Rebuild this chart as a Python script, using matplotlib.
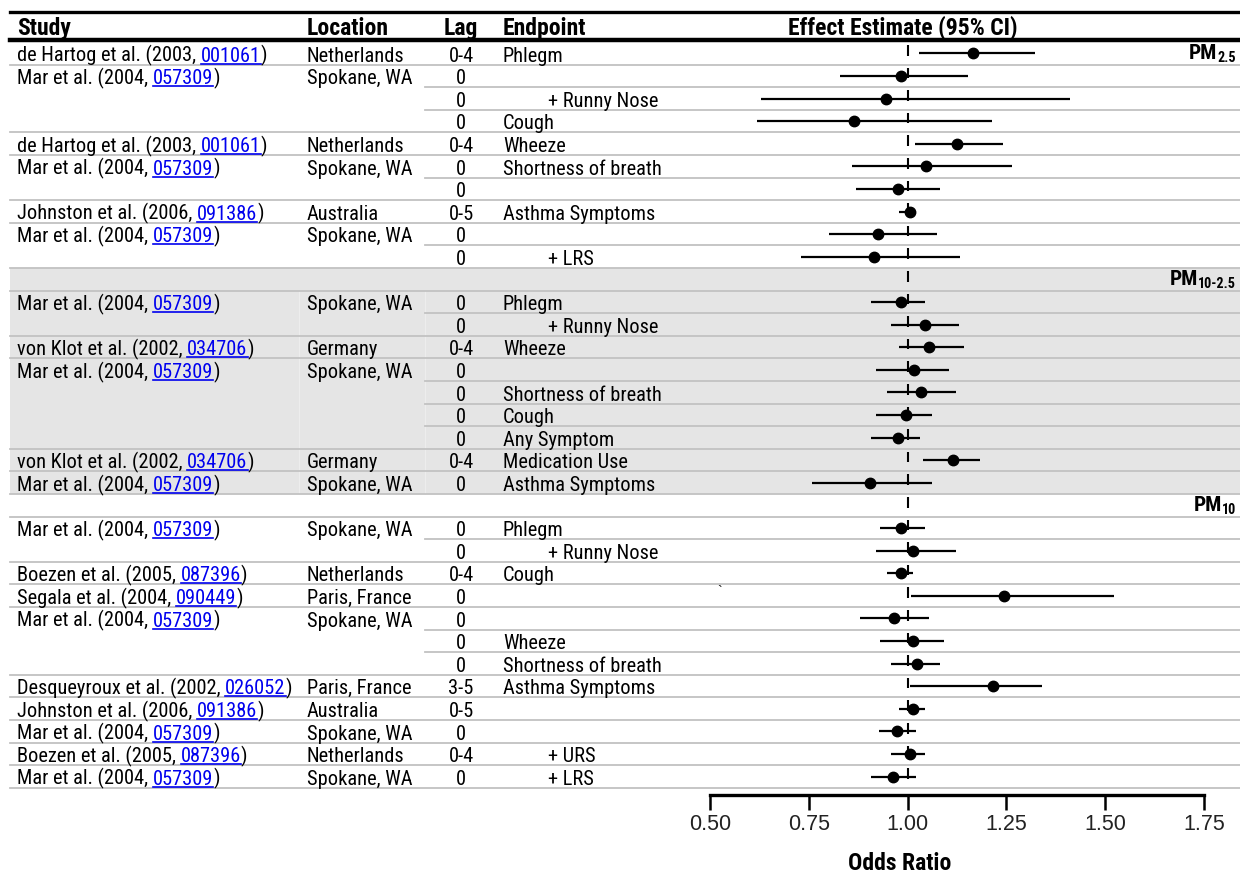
import os
import matplotlib
matplotlib.use("Agg")
import matplotlib.pyplot as plt
from matplotlib.lines import Line2D
from matplotlib.patches import Rectangle
from matplotlib.transforms import blended_transform_factory
from matplotlib.font_manager import FontProperties, fontManager, weight_dict

plt.rcParams["font.family"] = ["Liberation Sans", "DejaVu Sans"]

# ------------------------------------------------------------------ data
pollutant_main = ["PM", "PM", "PM"]
pollutant_sub = ["2.5", "10-2.5", "10"]
section_of_row = [0] * 10 + [1] * 9 + [2] * 12

study_cite = [
    "de Hartog et al. (2003", "Mar et al. (2004", "", "",
    "de Hartog et al. (2003", "Mar et al. (2004", "",
    "Johnston et al. (2006", "Mar et al. (2004", "",
    "Mar et al. (2004", "", "von Klot et al. (2002", "Mar et al. (2004", "", "", "",
    "von Klot et al. (2002", "Mar et al. (2004",
    "Mar et al. (2004", "", "Boezen et al. (2005", "Segala et al. (2004",
    "Mar et al. (2004", "", "", "Desqueyroux et al. (2002",
    "Johnston et al. (2006", "Mar et al. (2004", "Boezen et al. (2005", "Mar et al. (2004",
]
study_ref = [
    "001061", "057309", "", "",
    "001061", "057309", "",
    "091386", "057309", "",
    "057309", "", "034706", "057309", "", "", "",
    "034706", "057309",
    "057309", "", "087396", "090449",
    "057309", "", "", "026052",
    "091386", "057309", "087396", "057309",
]
location = [
    "Netherlands", "Spokane, WA", "", "",
    "Netherlands", "Spokane, WA", "",
    "Australia", "Spokane, WA", "",
    "Spokane, WA", "", "Germany", "Spokane, WA", "", "", "",
    "Germany", "Spokane, WA",
    "Spokane, WA", "", "Netherlands", "Paris, France",
    "Spokane, WA", "", "", "Paris, France",
    "Australia", "Spokane, WA", "Netherlands", "Spokane, WA",
]
lag = [
    "0-4", "0", "0", "0",
    "0-4", "0", "0",
    "0-5", "0", "0",
    "0", "0", "0-4", "0", "0", "0", "0",
    "0-4", "0",
    "0", "0", "0-4", "0",
    "0", "0", "0", "3-5",
    "0-5", "0", "0-4", "0",
]
endpoint = [
    "Phlegm", "", "+ Runny Nose", "Cough",
    "Wheeze", "Shortness of breath", "",
    "Asthma Symptoms", "", "+ LRS",
    "Phlegm", "+ Runny Nose", "Wheeze", "", "Shortness of breath", "Cough", "Any Symptom",
    "Medication Use", "Asthma Symptoms",
    "Phlegm", "+ Runny Nose", "Cough", "",
    "", "Wheeze", "Shortness of breath", "Asthma Symptoms",
    "", "", "+ URS", "+ LRS",
]
odds_ratio = [
    1.165, 0.984, 0.945, 0.864,
    1.125, 1.046, 0.976,
    1.005, 0.925, 0.914,
    0.984, 1.045, 1.055, 1.015, 1.035, 0.996, 0.976,
    1.115, 0.906,
    0.984, 1.013, 0.984, 1.244,
    0.965, 1.013, 1.024, 1.215,
    1.013, 0.973, 1.005, 0.964,
]
ci_low = [
    1.028, 0.830, 0.628, 0.620,
    1.019, 0.859, 0.870,
    0.979, 0.800, 0.729,
    0.908, 0.959, 0.979, 0.920, 0.949, 0.920, 0.908,
    1.039, 0.758,
    0.929, 0.920, 0.949, 1.009,
    0.879, 0.929, 0.959, 1.005,
    0.978, 0.928, 0.959, 0.908,
]
ci_high = [
    1.322, 1.152, 1.411, 1.213,
    1.242, 1.263, 1.082,
    1.015, 1.074, 1.133,
    1.045, 1.131, 1.143, 1.104, 1.123, 1.063, 1.032,
    1.184, 1.063,
    1.045, 1.123, 1.013, 1.523,
    1.054, 1.093, 1.082, 1.341,
    1.045, 1.022, 1.045, 1.022,
]
x_ticks = [0.50, 0.75, 1.00, 1.25, 1.50, 1.75]


# ------------------------------------------------------------------ fonts
def narrow_font(bold):
    """Pick an installed narrow/condensed sans face, falling back to Liberation Sans."""
    prefs = ["liberation sans narrow", "arial narrow", "roboto condensed",
             "open sans condensed", "noto sans", "dejavu sans", "lato", "inter"]
    best, best_score = None, None
    for f in fontManager.ttflist:
        w = f.weight if isinstance(f.weight, int) else weight_dict.get(f.weight, 400)
        if bold and not (650 <= w <= 750):
            continue
        if not bold and not (350 <= w <= 450):
            continue
        if f.style != "normal":
            continue
        tag = (f.name + " " + os.path.basename(f.fname)).lower()
        if "mono" in tag or "serif" in tag or "cjk" in tag:
            continue
        narrow = ("narrow" in tag or "condensed" in tag
                  or str(f.stretch) in ("condensed", "semi-condensed", "extra-condensed"))
        if not narrow:
            continue
        score = len(prefs)
        for i, p in enumerate(prefs):
            if p in tag:
                score = i
                break
        if "extra" in tag or "ultra" in tag or "semi" in tag:
            score += 0.5
        if best_score is None or score < best_score:
            best, best_score = f, score
    if best is None:
        return FontProperties(family=["Liberation Sans", "DejaVu Sans"],
                              weight="bold" if bold else "normal")
    return FontProperties(fname=best.fname)


# ------------------------------------------------------------------ layout
W, H, DPI = 1240, 875, 100
ROW_TOP, ROW_H = 42.0, 22.6
X_LEFT, X_RIGHT = 710, 1204
COL_STUDY, COL_LOC, COL_LAG, COL_END, COL_END_IND = 17, 307, 461, 503, 548
LINK = "#0000ee"
GRID = "#c2c2c2"
BAND = "#e5e5e5"

fig = plt.figure(figsize=(W / DPI, H / DPI), dpi=DPI)
fig.patch.set_facecolor("white")
renderer = fig.canvas.get_renderer()


def sized(fp, text, target_px, cap=None):
    f = fp.copy()
    f.set_size(20)
    t = fig.text(0, 0, text, fontproperties=f)
    w = t.get_window_extent(renderer).width
    t.remove()
    size = 20 * target_px / w
    if cap is not None:
        size = min(size, cap)
    f.set_size(size)
    return f


fp_regular = narrow_font(False)
fp_bold = narrow_font(True)
f_body = sized(fp_regular, "de Hartog et al. (2003, 001061)", 250, cap=16)
f_head = sized(fp_bold, "Effect Estimate (95% CI)", 229, cap=17.5)
f_axis_title = sized(fp_bold, "Odds Ratio", 109, cap=17)
f_pm = f_head.copy()
f_pm.set_size(f_head.get_size_in_points() * 0.9)
f_sub = f_head.copy()
f_sub.set_size(f_head.get_size_in_points() * 0.6)

# table rows: a blank header row opens every section after the first
rows = []
for i, s in enumerate(section_of_row):
    if i > 0 and s != section_of_row[i - 1]:
        rows.append(("head", s))
    rows.append(("data", i))
n_rows = len(rows)

ax = fig.add_axes([X_LEFT / W, 1 - (ROW_TOP + n_rows * ROW_H) / H,
                   (X_RIGHT - X_LEFT) / W, n_rows * ROW_H / H])
ax.set_xlim(x_ticks[0], x_ticks[-1])
ax.set_ylim(n_rows, 0)
ax.patch.set_alpha(0)
tr = blended_transform_factory(fig.transFigure, ax.transData)


def px(x):
    return x / W


# shaded band for the coarse fraction section
band_rows = [r for r, (k, v) in enumerate(rows)
             if (k == "head" and v == 1) or (k == "data" and section_of_row[v] == 1)]
ax.add_patch(Rectangle((px(10), band_rows[0]), 1 - px(10), len(band_rows),
                       transform=tr, facecolor=BAND, edgecolor="none",
                       zorder=0, clip_on=False))
for xs in (299, 425):
    ax.add_line(Line2D([px(xs)] * 2, [band_rows[0] + 1, band_rows[-1] + 1],
                       transform=tr, color="#eeeeee", lw=0.7, zorder=0.5,
                       clip_on=False))

# row separators
for r in range(n_rows):
    start = 10
    if r + 1 < n_rows:
        k, v = rows[r + 1]
        if k == "data" and study_cite[v] == "":
            start = 425
    ax.add_line(Line2D([px(start), 1], [r + 1, r + 1], transform=tr, color=GRID,
                       lw=1.3, zorder=1, clip_on=False))

# header rules and header text
for y, lw in [(12, 2.4), (40, 3.2)]:
    fig.add_artist(Line2D([px(10), 1], [1 - y / H, 1 - y / H], color="black",
                          lw=lw, transform=fig.transFigure))
head_y = 1 - 35 / H
for x, s, ha in [(COL_STUDY, "Study", "left"), (COL_LOC, "Location", "left"),
                 (COL_LAG, "Lag", "center"), (COL_END, "Endpoint", "left"),
                 (903, "Effect Estimate (95% CI)", "center")]:
    fig.text(px(x), head_y, s, ha=ha, va="baseline", fontproperties=f_head)

# body text
for r, (k, v) in enumerate(rows):
    if k != "data":
        continue
    yb = r + 0.5 + 8.3 / ROW_H
    if study_cite[v]:
        t1 = ax.text(px(COL_STUDY), yb, study_cite[v] + ", ", transform=tr,
                     fontproperties=f_body, va="baseline", ha="left")
        x1 = t1.get_window_extent(renderer).x1
        t2 = ax.text(x1 / W, yb, study_ref[v], transform=tr, color=LINK,
                     fontproperties=f_body, va="baseline", ha="left")
        bb = t2.get_window_extent(renderer)
        ax.add_line(Line2D([bb.x0 / W, bb.x1 / W], [yb + 2.0 / ROW_H] * 2,
                           transform=tr, color=LINK, lw=1.2, clip_on=False))
        ax.text(bb.x1 / W, yb, ")", transform=tr, fontproperties=f_body,
                va="baseline", ha="left")
    if location[v]:
        ax.text(px(COL_LOC), yb, location[v], transform=tr, fontproperties=f_body,
                va="baseline", ha="left")
    ax.text(px(COL_LAG), yb, lag[v], transform=tr, fontproperties=f_body,
            va="baseline", ha="center")
    if endpoint[v]:
        xe = COL_END_IND if endpoint[v].startswith("+") else COL_END
        ax.text(px(xe), yb, endpoint[v], transform=tr, fontproperties=f_body,
                va="baseline", ha="left")

# pollutant labels, right aligned with a subscript
for s in range(len(pollutant_main)):
    r = rows.index(("head", s)) if ("head", s) in rows else 0
    yb = r + 0.5 + 5.5 / ROW_H
    sub = ax.text(px(1236), yb + 3.0 / ROW_H, pollutant_sub[s], transform=tr,
                  fontproperties=f_sub, ha="right", va="baseline")
    sx = sub.get_window_extent(renderer).x0
    ax.text(sx / W, yb, pollutant_main[s], transform=tr, fontproperties=f_pm,
            ha="right", va="baseline")

# forest plot
ys_all = [r + 0.5 for r in range(n_rows)]
ax.vlines([1.0] * n_rows, [y - 0.37 for y in ys_all], [y + 0.1 for y in ys_all],
          colors="black", lw=1.5, zorder=3)
data_y = [r + 0.5 for r, (k, v) in enumerate(rows) if k == "data"]
ax.hlines(data_y, ci_low, ci_high, colors="black", lw=1.6, zorder=4)
ax.plot(odds_ratio, data_y, "o", color="black", ms=7.5, zorder=5)

# stray tick mark in the table
fig.text(px(720), 1 - 592 / H, "`", fontsize=10, ha="center", va="center")

# x axis
for side in ["top", "right", "left"]:
    ax.spines[side].set_visible(False)
ax.spines["bottom"].set_position(("outward", 5))
ax.spines["bottom"].set_linewidth(2.4)
ax.spines["bottom"].set_bounds(x_ticks[0], x_ticks[-1])
ax.set_yticks([])
ax.set_xticks(x_ticks)
ax.set_xticklabels([f"{t:.2f}" for t in x_ticks], fontsize=15.5, color="#222222")
ax.tick_params(axis="x", direction="out", length=11, width=1.8, pad=3)
fig.text(px(900), 1 - 863 / H, "Odds Ratio", ha="center", va="center",
         fontproperties=f_axis_title)

fig.savefig("out.png", dpi=DPI)
